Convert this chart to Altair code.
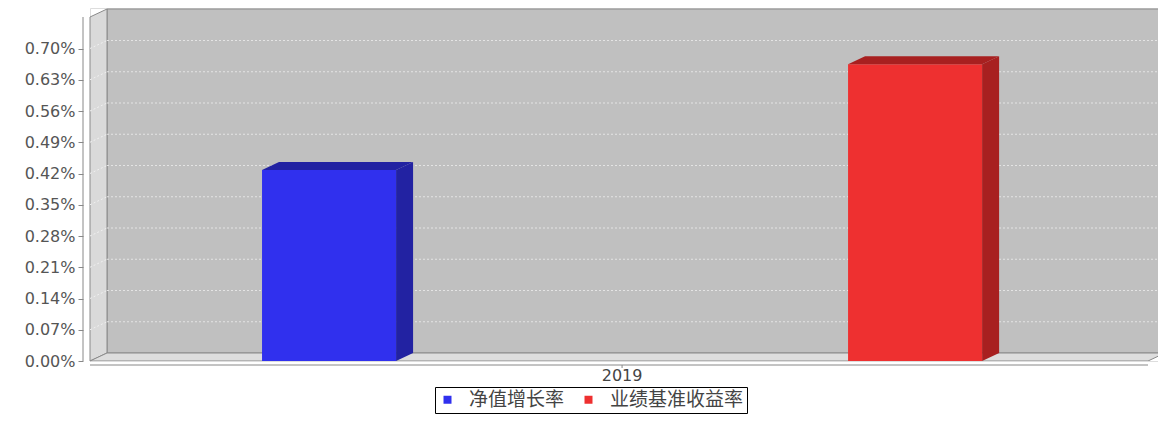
import altair as alt
import pandas as pd

# ---- data ----
categories = ["2019"]
series = ["净值增长率", "业绩基准收益率"]
values = [0.428, 0.665]          # percent
y_ticks = [0.00, 0.07, 0.14, 0.21, 0.28, 0.35, 0.42, 0.49, 0.56, 0.63, 0.70]

front_colors = ["#3030ee", "#ee3030"]
dark_colors = ["#2222a2", "#a82020"]

# ---- layout / style constants ----
PLOT_W = 1068          # view width in px
PLOT_H = 353           # view height in px
FRONT_W = 1058         # width of the front plane in px
X_MAX = PLOT_W / FRONT_W
DX = 17 / FRONT_W      # 3D depth, x (front units)
Y_MAX = 0.70 * PLOT_H / 312.5
DY = 8 * 0.70 / 312.5  # 3D depth, y (data units)
TOP_F = 344 * 0.70 / 312.5
LOWER_MARGIN = 0.1626
BAR_W = 0.1267
BAR_STEP = 0.5539

xs = alt.Scale(domain=[0, X_MAX], nice=False, zero=False)
ys = alt.Scale(domain=[0, Y_MAX], nice=False, zero=True)
yaxis = alt.Axis(values=y_ticks, labelExpr="format(datum.value, '.2f') + '%'",
                 domain=False, grid=False, tickSize=5, tickColor="#888888",
                 offset=7, labelFont="DejaVu Sans", labelFontSize=16,
                 labelColor="#555555", labelPadding=3, title=None)

def X(f):
    return alt.X(f, type="quantitative", scale=xs, axis=None)

def Y(f):
    return alt.Y(f, type="quantitative", scale=ys, axis=yaxis)

# back wall
back = pd.DataFrame({"x": [DX], "x2": [1 + DX], "y": [DY], "y2": [TOP_F + DY]})
back_layer = alt.Chart(back).mark_rect(fill="#c0c0c0", stroke="#8a8a8a", strokeWidth=1, clip=True).encode(
    x=X("x"), x2="x2", y=Y("y"), y2="y2")

# left wall (vertical area)
left = pd.DataFrame({"x": [0, DX], "y": [0, DY], "y2": [TOP_F, TOP_F + DY]})
left_layer = alt.Chart(left).mark_area(fill="#dadada", stroke="#8a8a8a", strokeWidth=1).encode(
    x=X("x"), y=Y("y"), y2="y2")

# floor (parallelogram as vertical area)
floor = pd.DataFrame({"x": [0, DX, 1, 1 + DX], "y": [0, 0, 0, DY], "y2": [0, DY, DY, DY]})
floor_layer = alt.Chart(floor).mark_area(fill="#dddddd", stroke="#8a8a8a",
                                         strokeWidth=1, clip=True).encode(
    x=X("x"), y=Y("y"), y2="y2")

# gridlines
grid_back = pd.DataFrame({"y": [t + DY for t in y_ticks[1:]], "x": DX, "x2": 1 + DX})
grid_back_layer = alt.Chart(grid_back).mark_rule(color="#e4e4e4", strokeDash=[2, 2], strokeWidth=1,
                                                 clip=True).encode(
    x=X("x"), x2="x2", y=Y("y"))
grid_left = pd.DataFrame({"x": 0.0, "x2": DX, "y": y_ticks[1:], "y2": [t + DY for t in y_ticks[1:]]})
grid_left_layer = alt.Chart(grid_left).mark_rule(color="#f0f0f0", strokeDash=[2, 2], strokeWidth=1).encode(
    x=X("x"), x2="x2", y=Y("y"), y2="y2")

# bars
xl = [LOWER_MARGIN + i * BAR_STEP for i in range(len(series))]
bars = pd.DataFrame({"series": series, "xl": xl, "xr": [a + BAR_W for a in xl], "v": values,
                     "zero": 0.0})
front_layer = alt.Chart(bars).mark_rect().encode(
    x=X("xl"), x2="xr", y=Y("zero"), y2="v",
    color=alt.Color("series:N", scale=alt.Scale(domain=series, range=front_colors),
                    legend=alt.Legend(title=None, orient="none", direction="horizontal",
                                      legendX=345, legendY=379, symbolType="square",
                                      symbolSize=64, symbolStrokeWidth=0,
                                      labelFont="Noto Sans CJK SC", labelFontSize=19,
                                      labelColor="#444444", strokeColor="#000000",
                                      padding=3, columnPadding=14, labelOffset=12)))

face_layers = []
for i in range(len(series)):
    v = values[i]
    a, b = xl[i], xl[i] + BAR_W
    side = pd.DataFrame({"x": [b, b + DX], "y": [0, DY], "y2": [v, v + DY]})
    top = pd.DataFrame({"x": [a, a + DX, b, b + DX], "y": [v, v, v, v + DY],
                        "y2": [v, v + DY, v + DY, v + DY]})
    face_layers.append(alt.Chart(side).mark_area(color=dark_colors[i]).encode(
        x=X("x"), y=Y("y"), y2="y2"))
    face_layers.append(alt.Chart(top).mark_area(color=dark_colors[i]).encode(
        x=X("x"), y=Y("y"), y2="y2"))

# y-axis line
yline = pd.DataFrame({"y": [0.0], "y2": [TOP_F]})
yline_layer = alt.Chart(yline).mark_rule(color="#888888").encode(
    x=alt.value(-7), y=Y("y"), y2="y2")

# category axis
cat_center = (xl[0] + xl[-1] + BAR_W) / 2
cat = pd.DataFrame({"x": [0.0], "x2": [1.0], "c": [cat_center], "label": categories})
cat_line = alt.Chart(cat).mark_rule(color="#888888").encode(x=X("x"), x2="x2", y=alt.value(357))
cat_tick = alt.Chart(cat).mark_rule(color="#888888").encode(x=X("c"), y=alt.value(357), y2=alt.value(360))
cat_text = alt.Chart(cat).mark_text(font="DejaVu Sans", fontSize=16, color="#444444",
                                    baseline="middle").encode(
    x=X("c"), y=alt.value(368), text="label:N")

chart = alt.layer(
    back_layer, left_layer, floor_layer, grid_back_layer, grid_left_layer,
    front_layer, *face_layers, yline_layer, cat_line, cat_tick, cat_text
).properties(
    width=PLOT_W, height=PLOT_H,
    autosize=alt.AutoSizeParams(type="none"),
    padding={"left": 82, "top": 0, "right": 0, "bottom": 53},
).configure_view(stroke=None).configure(background="white")

chart.save("out.html", embed_options={"renderer": "svg", "actions": False})
